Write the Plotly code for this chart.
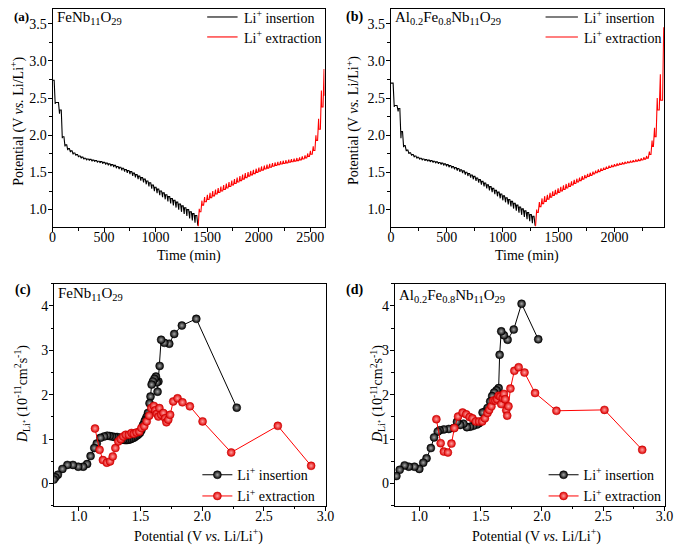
import plotly.graph_objects as go

FONT = "Liberation Serif, Times New Roman, serif"
# the page keeps an 8 px body margin, so the figure is drawn 8 px smaller and
# every position below is given in pixels of the 685x547 page
PAGE_OFF = 8
W, H = 685 - PAGE_OFF, 547 - PAGE_OFF

# ---------------- GITT curves (top panels) ----------------
# each pulse: start time (min), potential at pulse end, relaxed potential after it
PULSE_MIN = 10
RELAX_MIN = 3

a_ocv = 2.74
a_ins_t = [16, 58, 85, 111, 138, 164, 190, 217, 243, 269, 295, 322, 348, 374, 401, 427, 453, 479,
           506, 532, 558, 585, 611, 637, 663, 690, 716, 742, 769, 795, 821, 847, 874, 900, 926, 953,
           979, 1005, 1031, 1058, 1084, 1110, 1137, 1163, 1189, 1215, 1242, 1268, 1294, 1321, 1347,
           1373, 1400]
a_ins_pulse = [2.42, 2.29, 1.96, 1.85, 1.80, 1.772, 1.744, 1.725, 1.705, 1.69, 1.675, 1.665, 1.66,
               1.65, 1.644, 1.634, 1.628, 1.617, 1.606, 1.595, 1.584, 1.572, 1.556, 1.544, 1.527,
               1.51, 1.493, 1.476, 1.454, 1.432, 1.41, 1.388, 1.366, 1.34, 1.312, 1.28, 1.248, 1.22,
               1.193, 1.166, 1.138, 1.11, 1.082, 1.055, 1.027, 0.999, 0.97, 0.942, 0.914, 0.882,
               0.853, 0.823, 0.785]
a_ins_rest = [2.44, 2.34, 1.98, 1.87, 1.82, 1.79, 1.76, 1.74, 1.72, 1.705, 1.69, 1.68, 1.675, 1.665,
              1.66, 1.65, 1.645, 1.635, 1.625, 1.615, 1.605, 1.595, 1.58, 1.57, 1.555, 1.54, 1.525,
              1.51, 1.49, 1.47, 1.45, 1.43, 1.41, 1.385, 1.36, 1.33, 1.30, 1.275, 1.25, 1.225, 1.20,
              1.175, 1.15, 1.125, 1.10, 1.075, 1.05, 1.025, 1.0, 0.972, 0.946, 0.92]

a_ext_t = [1414, 1440, 1466, 1493, 1519, 1545, 1572, 1598, 1624, 1651, 1677, 1703, 1730, 1756,
           1782, 1809, 1835, 1861, 1888, 1914, 1940, 1967, 1993, 2019, 2046, 2072, 2098, 2125,
           2151, 2177, 2204, 2230, 2256, 2283, 2309, 2335, 2362, 2388, 2414, 2441, 2467, 2493,
           2520, 2546, 2572, 2599, 2625]
a_ext_pulse = [1.01, 1.12, 1.17, 1.20, 1.225, 1.25, 1.27, 1.29, 1.31, 1.33, 1.35, 1.37, 1.39, 1.41,
               1.43, 1.45, 1.47, 1.49, 1.505, 1.52, 1.535, 1.55, 1.565, 1.58, 1.592, 1.604, 1.615,
               1.625, 1.634, 1.642, 1.65, 1.657, 1.664, 1.671, 1.678, 1.686, 1.694, 1.703, 1.716,
               1.73, 1.755, 1.79, 1.85, 2.0, 2.22, 2.6, 2.89]
a_ext_rest = [0.97, 1.06, 1.105, 1.135, 1.16, 1.185, 1.21, 1.23, 1.25, 1.27, 1.29, 1.31, 1.33, 1.35,
              1.37, 1.39, 1.41, 1.43, 1.45, 1.467, 1.483, 1.5, 1.515, 1.53, 1.545, 1.558, 1.57,
              1.582, 1.593, 1.603, 1.612, 1.62, 1.628, 1.636, 1.643, 1.651, 1.659, 1.668, 1.68,
              1.695, 1.715, 1.745, 1.795, 1.93, 2.08, 2.38, 2.53]

b_ocv = 2.70
b_ins_t = [20, 55, 80, 104, 128, 152, 176, 200, 224, 248, 272, 296, 320, 344, 368, 392, 416, 440,
           464, 488, 512, 536, 560, 584, 608, 632, 656, 680, 704, 728, 752, 776, 800, 824, 848, 872,
           896, 920, 944, 968, 992, 1016, 1040, 1064, 1088, 1112, 1136, 1160, 1184, 1208, 1232,
           1256, 1280]
b_ins_pulse = [2.38, 2.32, 1.96, 1.84, 1.785, 1.75, 1.725, 1.705, 1.688, 1.675, 1.665, 1.656, 1.649,
               1.641, 1.633, 1.624, 1.615, 1.605, 1.594, 1.582, 1.569, 1.556, 1.541, 1.525, 1.508,
               1.49, 1.471, 1.451, 1.43, 1.408, 1.385, 1.361, 1.336, 1.311, 1.285, 1.259, 1.233,
               1.206, 1.179, 1.152, 1.125, 1.098, 1.07, 1.042, 1.014, 0.986, 0.958, 0.93, 0.9,
               0.872, 0.845, 0.818, 0.785]
b_ins_rest = [2.40, 2.36, 2.05, 1.86, 1.80, 1.765, 1.74, 1.72, 1.703, 1.69, 1.68, 1.672, 1.665,
              1.658, 1.65, 1.642, 1.634, 1.625, 1.615, 1.604, 1.592, 1.58, 1.566, 1.552, 1.536,
              1.52, 1.503, 1.485, 1.466, 1.446, 1.425, 1.403, 1.38, 1.357, 1.333, 1.309, 1.285,
              1.26, 1.235, 1.21, 1.185, 1.16, 1.135, 1.11, 1.085, 1.06, 1.035, 1.01, 0.985, 0.96,
              0.935, 0.91]

b_ext_t = [1294, 1318, 1342, 1366, 1390, 1414, 1438, 1462, 1486, 1510, 1534, 1558, 1582, 1606,
           1630, 1654, 1678, 1702, 1726, 1750, 1774, 1798, 1822, 1846, 1870, 1894, 1918, 1942,
           1966, 1990, 2014, 2038, 2062, 2086, 2110, 2134, 2158, 2182, 2206, 2230, 2254, 2278,
           2302, 2326, 2348, 2372, 2400, 2430]
b_ext_pulse = [1.00, 1.10, 1.15, 1.18, 1.20, 1.225, 1.245, 1.265, 1.285, 1.305, 1.325, 1.345, 1.36,
               1.38, 1.40, 1.415, 1.43, 1.45, 1.465, 1.48, 1.495, 1.51, 1.525, 1.54, 1.553, 1.565,
               1.578, 1.59, 1.60, 1.61, 1.62, 1.628, 1.636, 1.643, 1.65, 1.657, 1.664, 1.672, 1.68,
               1.69, 1.703, 1.72, 1.78, 1.93, 2.10, 2.50, 2.82, 3.45]
b_ext_rest = [0.96, 1.04, 1.08, 1.11, 1.14, 1.165, 1.19, 1.21, 1.23, 1.25, 1.27, 1.29, 1.31, 1.33,
              1.35, 1.37, 1.39, 1.41, 1.43, 1.445, 1.46, 1.48, 1.495, 1.51, 1.525, 1.54, 1.553,
              1.566, 1.577, 1.588, 1.598, 1.607, 1.615, 1.623, 1.63, 1.637, 1.644, 1.651, 1.658,
              1.667, 1.678, 1.692, 1.74, 1.85, 1.98, 2.34, 2.47]

# ---------------- diffusion coefficients (bottom panels) ----------------
c_ins_v = [2.28, 1.952, 1.835, 1.773, 1.733, 1.693, 1.667, 1.655, 1.645, 1.638, 1.632, 1.625, 1.613,
           1.600, 1.590, 1.581, 1.573, 1.560, 1.549, 1.540, 1.533, 1.520, 1.507, 1.495, 1.480,
           1.465, 1.450, 1.435, 1.420, 1.405, 1.390, 1.375, 1.360, 1.345, 1.330, 1.310, 1.290,
           1.270, 1.250, 1.230, 1.205, 1.175, 1.145, 1.125, 1.095, 1.067, 1.035, 0.995, 0.952,
           0.907, 0.867, 0.830, 0.810, 0.797]
c_ins_d = [1.71, 3.71, 3.56, 3.37, 3.15, 3.17, 3.24, 2.65, 2.30, 2.07, 2.28, 2.41, 2.36, 2.30, 2.23,
           1.96, 1.81, 1.59, 1.50, 1.44, 1.40, 1.32, 1.20, 1.14, 1.10, 1.07, 1.04, 1.02, 1.00, 0.99,
           0.98, 0.98, 0.99, 1.01, 1.03, 1.05, 1.05, 1.06, 1.07, 1.08, 1.06, 1.03, 0.90, 0.80, 0.62,
           0.44, 0.38, 0.38, 0.42, 0.42, 0.33, 0.20, 0.14, 0.09]
c_ext_v = [1.131, 1.168, 1.195, 1.227, 1.253, 1.275, 1.296, 1.32, 1.34, 1.36, 1.38, 1.405, 1.427,
           1.445, 1.467, 1.49, 1.507, 1.53, 1.55, 1.57, 1.587, 1.608, 1.62, 1.632, 1.645, 1.653,
           1.667, 1.685, 1.70, 1.71, 1.725, 1.74, 1.765, 1.80, 1.84, 1.90, 2.003, 2.235, 2.613, 2.883]
c_ext_d = [1.24, 0.76, 0.53, 0.47, 0.50, 0.61, 0.80, 0.95, 1.00, 1.06, 1.10, 1.10, 1.14, 1.12, 1.15,
           1.17, 1.25, 1.29, 1.40, 1.53, 1.70, 1.75, 1.65, 1.57, 1.51, 1.70, 1.55, 1.59, 1.47, 1.38,
           1.44, 1.55, 1.85, 1.92, 1.83, 1.74, 1.40, 0.70, 1.30, 0.40]

d_ins_v = [1.97, 1.834, 1.77, 1.72, 1.69, 1.668, 1.655, 1.647, 1.63, 1.61, 1.594, 1.578, 1.556, 1.535,
           1.516, 1.487, 1.47, 1.44, 1.414, 1.388, 1.36, 1.334, 1.307, 1.28, 1.24, 1.20, 1.166, 1.15,
           1.12, 1.094, 1.059, 1.032, 1.0, 0.96, 0.914, 0.88, 0.84, 0.813]
d_ins_d = [3.25, 4.05, 3.47, 3.24, 3.34, 3.43, 2.90, 2.15, 2.10, 2.05, 1.97, 1.85, 1.70, 1.62, 1.60,
           1.36, 1.33, 1.30, 1.28, 1.27, 1.35, 1.32, 1.39, 1.25, 1.23, 1.22, 1.20, 1.17, 1.04, 0.80,
           0.57, 0.47, 0.33, 0.38, 0.38, 0.41, 0.31, 0.17]
d_ext_v = [1.139, 1.174, 1.20, 1.233, 1.262, 1.286, 1.316, 1.353, 1.382, 1.41, 1.433, 1.46, 1.487,
           1.513, 1.535, 1.556, 1.57, 1.588, 1.604, 1.62, 1.634, 1.647, 1.66, 1.668, 1.68, 1.69,
           1.70, 1.709, 1.717, 1.727, 1.743, 1.775, 1.81, 1.858, 1.944, 2.118, 2.51, 2.818]
d_ext_d = [1.45, 0.91, 0.72, 0.70, 0.90, 1.25, 1.51, 1.60, 1.56, 1.50, 1.47, 1.40, 1.40, 1.40, 1.47,
           1.59, 1.66, 1.74, 1.87, 1.87, 1.90, 1.98, 1.96, 1.79, 1.93, 2.02, 1.90, 1.65, 1.53, 1.74,
           2.14, 2.54, 2.62, 2.50, 2.04, 1.64, 1.66, 0.76]


def px(x):
    return (x - PAGE_OFF) / W


def py(y):
    return 1 - (y - PAGE_OFF) / H


def gitt_path(t0, v0, starts, pulse, rest):
    # zigzag: previous relaxed value -> pulse end -> relaxed value
    xs, ys = [t0], [v0]
    prev = v0
    for i, t in enumerate(starts):
        xs += [t, t + PULSE_MIN]
        ys += [prev, pulse[i]]
        if i < len(rest):
            xs.append(t + PULSE_MIN + RELAX_MIN)
            ys.append(rest[i])
            prev = rest[i]
    return xs, ys


def axis(domain, rng, dtick, minor_dtick, fmt, anchor, standoff):
    return dict(domain=domain, range=rng, anchor=anchor, tick0=0, dtick=dtick, tickformat=fmt,
                showline=True, linecolor="black", linewidth=1, mirror=True,
                ticks="outside", ticklen=4, tickwidth=1, tickcolor="black",
                ticklabelstandoff=standoff,
                showgrid=False, zeroline=False,
                tickfont=dict(family=FONT, size=14, color="black"),
                minor=dict(tick0=0, dtick=minor_dtick, ticks="outside", ticklen=2.5,
                           tickwidth=1, tickcolor="black", showgrid=False))


INS = "Li<sup>+</sup> insertion"
EXT = "Li<sup>+</sup> extraction"

fig = go.Figure()

# (a) and (b) GITT
for ocv, it, ip, ir, et, ep, er, xa, ya in [
        (a_ocv, a_ins_t, a_ins_pulse, a_ins_rest, a_ext_t, a_ext_pulse, a_ext_rest, "x", "y"),
        (b_ocv, b_ins_t, b_ins_pulse, b_ins_rest, b_ext_t, b_ext_pulse, b_ext_rest, "x2", "y2")]:
    xi, yi = gitt_path(0, ocv, it, ip, ir)
    xe, ye = gitt_path(xi[-1], yi[-1], et, ep, er)
    fig.add_trace(go.Scatter(x=xi, y=yi, mode="lines", line=dict(color="black", width=1.1),
                             name=INS, xaxis=xa, yaxis=ya, showlegend=False))
    fig.add_trace(go.Scatter(x=xe, y=ye, mode="lines", line=dict(color="#ff0000", width=1.1),
                             name=EXT, xaxis=xa, yaxis=ya, showlegend=False))

# (c) and (d) diffusion coefficients
for iv, idd, ev, ed, xa, ya, lg in [
        (c_ins_v, c_ins_d, c_ext_v, c_ext_d, "x3", "y3", "legend"),
        (d_ins_v, d_ins_d, d_ext_v, d_ext_d, "x4", "y4", "legend2")]:
    fig.add_trace(go.Scatter(
        x=iv, y=idd, mode="lines+markers", name=INS, xaxis=xa, yaxis=ya, legend=lg,
        line=dict(color="black", width=1),
        marker=dict(symbol="circle", size=8, color="black",
                    gradient=dict(type="radial", color="#a8a8a8"),
                    line=dict(color="black", width=0.5))))
    fig.add_trace(go.Scatter(
        x=ev, y=ed, mode="lines+markers", name=EXT, xaxis=xa, yaxis=ya, legend=lg,
        line=dict(color="#ff0000", width=1),
        marker=dict(symbol="circle", size=8, color="#e00000",
                    gradient=dict(type="radial", color="#ffa0a0"),
                    line=dict(color="#c00000", width=0.5))))

leg = dict(xanchor="left", yanchor="top", bgcolor="rgba(0,0,0,0)", borderwidth=0,
           font=dict(family=FONT, size=14, color="black"), itemwidth=30, tracegroupgap=0)

fig.update_layout(
    width=W, height=H,
    margin=dict(l=0, r=0, t=0, b=0),
    paper_bgcolor="white", plot_bgcolor="white",
    font=dict(family=FONT, size=14, color="black"),
    xaxis=axis([px(49.3), px(326.7)], [0, 2640], 500, 250, "d", "y", -7),
    yaxis=axis([py(226.7), py(8)], [0.762, 3.697], 0.5, 0.25, ".1f", "x", -2),
    xaxis2=axis([px(394.3), px(672.7)], [0, 2442], 500, 250, "d", "y2", -7),
    yaxis2=axis([py(226.7), py(8)], [0.762, 3.697], 0.5, 0.25, ".1f", "x2", -2),
    xaxis3=axis([px(51), px(327.7)], [0.8, 3.0], 0.5, 0.25, ".1f", "y3", -7),
    yaxis3=axis([py(505.7), py(283.3)], [-0.5, 4.5], 1, 0.5, "d", "x3", -2),
    xaxis4=axis([px(398.3), px(673.3)], [0.8, 3.0], 0.5, 0.25, ".1f", "y4", -7),
    yaxis4=axis([py(505.7), py(283.3)], [-0.5, 4.5], 1, 0.5, "d", "x4", -2),
    legend=dict(leg, x=px(197), y=py(459)),
    legend2=dict(leg, x=px(550), y=py(459)),
)

# line legends of the two GITT panels
for x0, x1 in [(207, 238), (552, 585)]:
    for yy, col, label in [(16, "black", INS), (36, "#ff0000", EXT)]:
        fig.add_shape(type="line", xref="paper", yref="paper", x0=px(x0), x1=px(x1),
                      y0=py(yy), y1=py(yy), line=dict(color=col, width=1.1))
        fig.add_annotation(x=px(x1 + 4), y=py(yy), xref="paper", yref="paper", text=label,
                           xanchor="left", yanchor="middle", showarrow=False,
                           font=dict(family=FONT, size=14, color="black"))

POT = "Potential (V <i>vs.</i> Li/Li<sup>+</sup>)"
DLI = "<i>D</i><sub>Li⁺</sub> (10<sup>-11</sup>cm<sup>2</sup>s<sup>-1</sup>)"
FE = "FeNb<sub>11</sub>O<sub>29</sub>"
AL = "Al<sub>0.2</sub>Fe<sub>0.8</sub>Nb<sub>11</sub>O<sub>29</sub>"

notes = [
    # panel letters
    (8.5, 16, "<b>(a)</b>", 0, "left", 13),
    (346, 16, "<b>(b)</b>", 0, "left", 14),
    (9, 290, "<b>(c)</b>", 0, "left", 14),
    (346, 290, "<b>(d)</b>", 0, "left", 14),
    # compound names
    (52, 17, FE, 0, "left", 15),
    (396, 17, AL, 0, "left", 15),
    (53, 294, FE, 0, "left", 15),
    (401, 296, AL, 0, "left", 15),
    # axis titles
    (14, 120, POT, -90, "center", 14),
    (356, 120, POT, -90, "center", 14),
    (19, 394, DLI, -90, "center", 14),
    (381, 394, DLI, -90, "center", 14),
    (188, 255, "Time (min)", 0, "center", 14),
    (533, 255, "Time (min)", 0, "center", 14),
    (198, 535, POT, 0, "center", 14),
    (543, 535, POT, 0, "center", 14),
]
for x, y, text, angle, anchor, size in notes:
    fig.add_annotation(x=px(x), y=py(y), xref="paper", yref="paper", text=text,
                       textangle=angle, xanchor=anchor, yanchor="middle", showarrow=False,
                       font=dict(family=FONT, size=size, color="black"))

fig.write_html("out.html")
